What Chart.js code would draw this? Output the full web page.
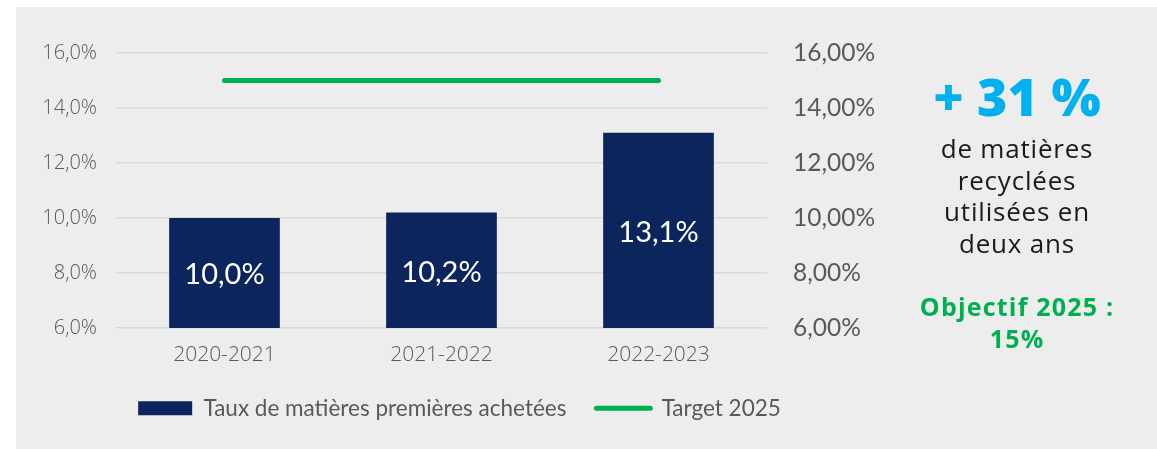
<!DOCTYPE html>
<html>
<head>
<meta charset="utf-8">
<script src="https://cdn.jsdelivr.net/npm/chart.js@4.4.1/dist/chart.umd.min.js"></script>
<style>
  html, body { margin: 0; padding: 0; background: #fff; }
  body { width: 1157px; height: 449px; position: relative; overflow: hidden; }
  .panel { position: absolute; left: 16px; top: 7px; width: 1141px; height: 442px; background: #ededed; }
  #chart { position: absolute; left: 0; top: 0; }
  .side { position: absolute; left: 867px; width: 300px; text-align: center; font-family: "Open Sans", sans-serif; }
  .big { top: 66px; color: #00b0f0; font-size: 52px; font-weight: 800; line-height: 60px; }
  .desc { top: 133px; color: #1a1a1a; font-size: 26px; letter-spacing: 0.8px; line-height: 31.6px; }
  .goal { top: 290px; color: #00b050; font-size: 25px; font-weight: 700; letter-spacing: 1.2px; line-height: 32px; }
</style>
</head>
<body>
<div class="panel"></div>
<canvas id="chart" width="1157" height="449"></canvas>
<div class="side big">+ 31 %</div>
<div class="side desc">de matières<br>recyclées<br>utilisées en<br>deux ans</div>
<div class="side goal">Objectif 2025 :<br>15%</div>
<script>
const years = ["2020-2021", "2021-2022", "2022-2023"];
const rawRate = [10.0, 10.2, 13.1];
const target = [15, 15, 15];
const leftTicks = ["6,0%", "8,0%", "10,0%", "12,0%", "14,0%", "16,0%"];
const rightTicks = ["6,00%", "8,00%", "10,00%", "12,00%", "14,00%", "16,00%"];
const rateLabels = ["10,0%", "10,2%", "13,1%"];

const navy = "#0c255c";
const green = "#00b050";
const tickGrey = "#595959";

// white value labels inside the bars
const barLabels = {
  id: "barLabels",
  afterDatasetsDraw(chart) {
    const ctx = chart.ctx;
    const meta = chart.getDatasetMeta(0);
    const bottom = chart.chartArea.bottom;
    ctx.save();
    ctx.fillStyle = "#ffffff";
    ctx.font = "29px Lato, sans-serif";
    ctx.textAlign = "center";
    ctx.textBaseline = "middle";
    meta.data.forEach((bar, i) => {
      const mid = (bar.y + Math.min(bar.base, bottom)) / 2;
      ctx.fillText(rateLabels[i], bar.x, mid + 2);
    });
    ctx.restore();
  },
};

new Chart(document.getElementById("chart"), {
  data: {
    labels: years,
    datasets: [
      {
        type: "bar",
        label: "Taux de matières premières achetées",
        data: rawRate,
        backgroundColor: navy,
        borderWidth: 0,
        categoryPercentage: 1,
        barPercentage: 0.51,
        yAxisID: "y",
      },
      {
        type: "line",
        label: "Target 2025",
        data: target,
        borderColor: green,
        backgroundColor: green,
        borderWidth: 5,
        borderCapStyle: "round",
        pointRadius: 0,
        yAxisID: "y",
      },
    ],
  },
  options: {
    responsive: false,
    animation: false,
    layout: { padding: { left: 32, top: 53, right: 270, bottom: 19.5 } },
    plugins: {
      tooltip: { enabled: false },
      legend: {
        position: "bottom",
        labels: {
          usePointStyle: true,
          pointStyleWidth: 54,
          boxHeight: 14,
          padding: 30,
          color: tickGrey,
          font: { family: "Lato, sans-serif", size: 22.5 },
          generateLabels(chart) {
            const items = Chart.defaults.plugins.legend.labels.generateLabels(chart);
            items.forEach((it) => {
              if (it.datasetIndex === 1) {
                it.pointStyle = "line";
                it.strokeStyle = green;
                it.lineWidth = 5;
                it.lineCap = "round";
              } else {
                it.pointStyle = "rect";
                it.fillStyle = navy;
                it.strokeStyle = navy;
                it.lineWidth = 0;
              }
            });
            return items;
          },
        },
      },
    },
    scales: {
      x: {
        grid: { display: false },
        border: { display: false },
        ticks: {
          padding: 6,
          color: tickGrey,
          font: { family: "'Open Sans', sans-serif", size: 21, weight: 300 },
        },
        afterFit(scale) { scale.height = 39; },
      },
      y: {
        position: "left",
        min: 6,
        max: 16,
        grid: { color: "#d9d9d9", lineWidth: 1.5, drawTicks: false },
        border: { display: false },
        ticks: {
          stepSize: 2,
          padding: 19,
          color: tickGrey,
          font: { family: "'Open Sans', sans-serif", size: 20, weight: 300 },
          callback: (v, i) => leftTicks[i],
        },
        afterFit(scale) { scale.width = 84; },
      },
      y2: {
        position: "right",
        min: 6,
        max: 16,
        grid: { display: false, drawTicks: false },
        border: { display: false },
        ticks: {
          stepSize: 2,
          padding: 26,
          color: tickGrey,
          font: { family: "Lato, sans-serif", size: 24.5 },
          callback: (v, i) => rightTicks[i],
        },
        afterFit(scale) { scale.width = 120; },
      },
    },
  },
  plugins: [barLabels],
});
</script>
</body>
</html>
